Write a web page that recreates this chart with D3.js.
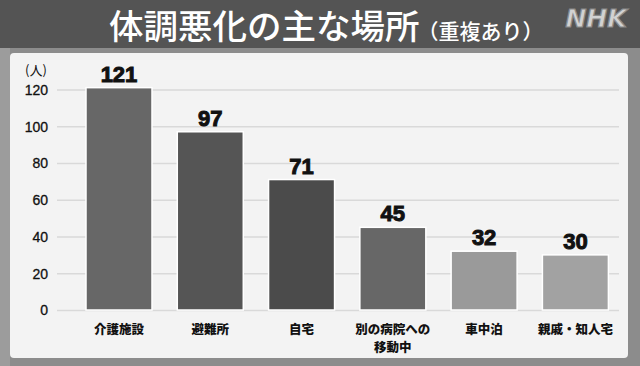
<!DOCTYPE html>
<html><head><meta charset="utf-8">
<script src="https://cdn.jsdelivr.net/npm/d3@7"></script>
<style>body{margin:0;background:#8a8a8a;}svg{display:block;}</style>
</head><body>
<script>
const categories = ["介護施設","避難所","自宅","別の病院への\n移動中","車中泊","親戚・知人宅"];
const values = [121, 97, 71, 45, 32, 30];
const barColors = ["#676767","#555555","#4b4b4b","#676767","#9a9a9a","#a2a2a2"];
const yTicks = [0,20,40,60,80,100,120];
const titleMain = "体調悪化の主な場所";
const titleSub = "（重複あり）";
const unitLabel = "(人)";

const W = 640, H = 366;
const svg = d3.select("body").append("svg").attr("width", W).attr("height", H);
const jp = "'Noto Sans CJK JP', sans-serif";

svg.append("rect").attr("width", W).attr("height", H).attr("fill", "#8c8c8c");
svg.append("rect").attr("x",0).attr("y",0).attr("width",10).attr("height",H).attr("fill","#9c9c9c");
svg.append("rect").attr("width", W).attr("height", 48).attr("fill", "#545454");
svg.append("rect").attr("x",10).attr("y",53).attr("width",618).attr("height",305).attr("rx",4).attr("fill","#f3f3f3");

// title
const t = svg.append("text").attr("x", 109).attr("y", 39).attr("fill", "#fff").attr("font-family", jp);
t.append("tspan").attr("font-size", 34.5).attr("font-weight", 500).text(titleMain);
t.append("tspan").attr("font-size", 21).attr("dx", -2).attr("font-weight", 500).text(titleSub);

// NHK logo
svg.append("text").attr("x", 596).attr("y", 27).attr("text-anchor","middle")
  .attr("font-family","'DejaVu Sans', sans-serif").attr("font-weight","bold").attr("font-style","italic")
  .attr("font-size", 25).attr("fill","#d2d2d2").attr("stroke","#8a8a8a").attr("stroke-width",1.2)
  .text("NHK");

const y = d3.scaleLinear().domain([0,120]).range([310, 89.5]);
const x = d3.scaleBand().domain(categories).range([73.4, 621]).paddingInner(0.277).paddingOuter(0.138);

// grid
const yAxis = svg.append("g").attr("transform","translate(57,0)")
  .call(d3.axisLeft(y).tickValues(yTicks).tickSize(-562).tickPadding(9));
yAxis.select(".domain").remove();
yAxis.selectAll(".tick line").attr("stroke","#d9d9d9").attr("stroke-width",1.5);
yAxis.selectAll(".tick text").attr("font-family","'Liberation Sans', Arial, sans-serif")
  .attr("font-size",14).attr("fill","#111").attr("stroke","#111").attr("stroke-width",0.3).attr("dy","0.35em");

svg.append("text").attr("x", 36).attr("y", 75).attr("text-anchor","middle")
  .attr("font-family", jp).attr("font-size", 13).attr("fill","#111").text(unitLabel);

// bars
svg.selectAll("rect.bar").data(values).join("rect").attr("class","bar")
  .attr("x", (d,i)=>x(categories[i])).attr("width", x.bandwidth())
  .attr("y", d=>y(d)).attr("height", d=>y(0)-y(d))
  .attr("fill", (d,i)=>barColors[i]).attr("stroke","#fff").attr("stroke-width",1.5);

svg.selectAll("text.val").data(values).join("text").attr("class","val")
  .attr("x", (d,i)=>x(categories[i])+x.bandwidth()/2).attr("y", d=>y(d)-6)
  .attr("text-anchor","middle").attr("font-family","'Liberation Sans', Arial, sans-serif")
  .attr("font-weight","bold").attr("font-size",22).attr("fill","#111")
  .attr("stroke","#111").attr("stroke-width",1).text(d=>d);

// category labels
categories.forEach((c,i)=>{
  const lines = c.split("\n");
  lines.forEach((l,j)=>svg.append("text").attr("x", x(c)+x.bandwidth()/2).attr("y", 334 + j*17.5)
    .attr("text-anchor","middle").attr("font-family", jp).attr("font-weight","900")
    .attr("font-size",12.5).attr("fill","#111").text(l));
});
</script>
</body></html>
